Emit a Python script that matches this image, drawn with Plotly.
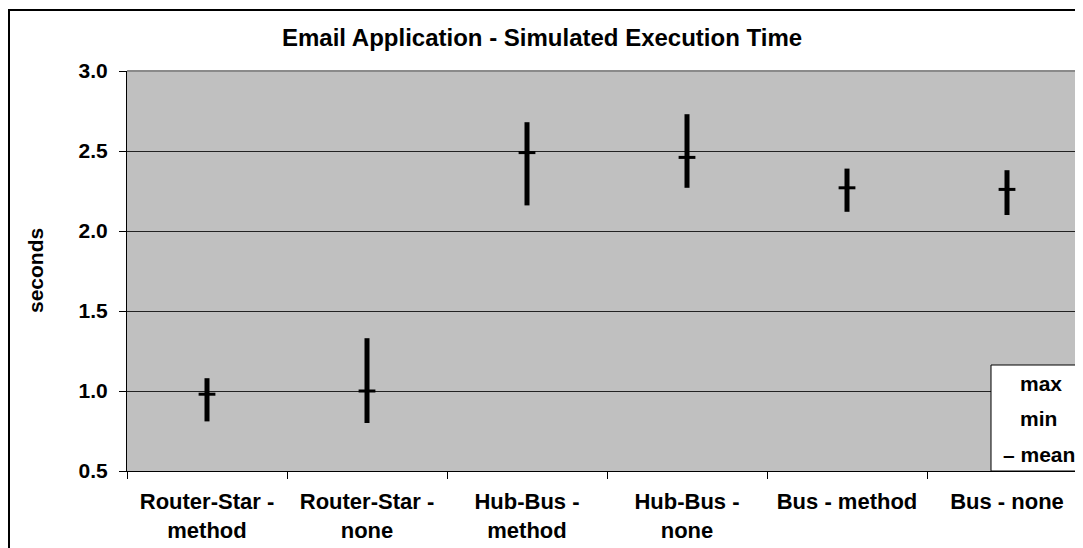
import plotly.graph_objects as go

# data
categories = ["Router-Star -<br>method", "Router-Star -<br>none", "Hub-Bus -<br>method",
              "Hub-Bus -<br>none", "Bus - method", "Bus - none"]
max_vals = [1.08, 1.33, 2.68, 2.73, 2.39, 2.38]
min_vals = [0.81, 0.80, 2.16, 2.27, 2.12, 2.10]
mean_vals = [0.98, 1.00, 2.49, 2.46, 2.27, 2.26]

# page body has an 8px margin, so the figure is drawn 8px smaller
OFF = 8
W, H = 1083 - OFF, 548 - OFF
L, T, B = 127 - OFF, 71 - OFF, 548 - 471
pw, ph = W - L, H - T - B


def px_x(x):
    # reference pixel -> paper coordinate
    return (x - OFF - L) / pw


def px_y(y):
    return (H - B - (y - OFF)) / ph


fig = go.Figure()

# high-low line with the mean as a dash
fig.add_trace(go.Scatter(
    x=categories, y=mean_vals,
    mode='markers',
    marker=dict(symbol='line-ew', size=12, line=dict(width=3, color='black'), color='black'),
    error_y=dict(
        type='data', symmetric=False,
        array=[mx - m for mx, m in zip(max_vals, mean_vals)],
        arrayminus=[m - mn for m, mn in zip(mean_vals, min_vals)],
        width=0, thickness=5, color='black'
    ),
    showlegend=False,
    hoverinfo='skip'
))

FAM = 'Liberation Sans, Arial, sans-serif'
font_b = dict(family=FAM, size=21, color='black')

fig.update_layout(
    width=W, height=H,
    margin=dict(l=L, r=0, t=T, b=B, autoexpand=False),
    paper_bgcolor='white',
    plot_bgcolor='#C0C0C0',
    font=font_b,
    xaxis=dict(
        type='category',
        range=[-0.5, -0.5 + pw / 160],
        tickson='boundaries',
        ticks='outside', ticklen=7, tickcolor='black',
        ticklabelstandoff=11,
        showline=True, linecolor='black', linewidth=1,
        showgrid=False, zeroline=False,
        tickfont=dict(family=FAM, size=22, color='black', weight='bold'),
        automargin=False,
    ),
    yaxis=dict(
        range=[0.5, 3.0],
        tickvals=[0.5, 1.0, 1.5, 2.0, 2.5, 3.0],
        ticktext=['0.5', '1.0', '1.5', '2.0', '2.5', '3.0'],
        ticks='outside', ticklen=7, tickcolor='black',
        ticklabelstandoff=7,
        showline=True, linecolor='black', linewidth=1,
        showgrid=True, gridcolor='#222222', gridwidth=1,
        zeroline=False,
        tickfont=dict(family=FAM, size=21, color='black', weight='bold'),
        automargin=False,
    ),
)

shapes = [
    # chart frame
    dict(type='rect', xref='paper', yref='paper',
         x0=px_x(9), x1=1.05, y0=px_y(600), y1=px_y(10),
         line=dict(color='black', width=2), fillcolor='rgba(0,0,0,0)', layer='above'),
    # plot area top border
    dict(type='line', xref='paper', yref='paper', x0=0, x1=1, y0=1, y1=1,
         line=dict(color='#8a8a8a', width=2), layer='above'),
    # legend box
    dict(type='rect', xref='paper', yref='paper',
         x0=px_x(991), x1=1.02, y0=0, y1=px_y(365),
         line=dict(color='black', width=1), fillcolor='white', layer='above'),
]


def label(text, x, y, size=21, angle=0):
    return dict(text=text, xref='paper', yref='paper', x=px_x(x), y=px_y(y),
                xanchor='center', yanchor='middle', textangle=angle, showarrow=False,
                font=dict(family=FAM, size=size, color='black'))


annotations = [
    label('<b>Email Application - Simulated Execution Time</b>', 542, 37, size=24),
    label('<b>seconds</b>', 35, 271, angle=-90),
    label('<b>max</b>', 1041, 383),
    label('<b>min</b>', 1038, 418),
    label('<b>– mean</b>', 1039, 454),
]

fig.update_layout(shapes=shapes, annotations=annotations)

fig.write_html("out.html")
